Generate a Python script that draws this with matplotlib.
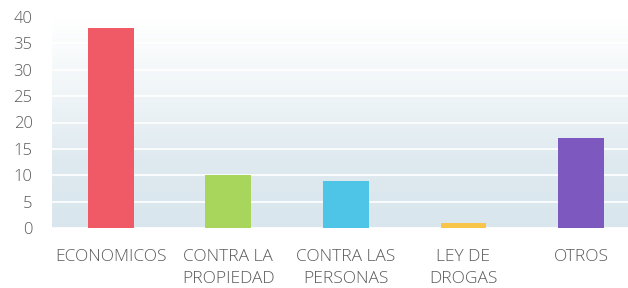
import numpy as np
import matplotlib.pyplot as plt
from matplotlib.colors import LinearSegmentedColormap

categories = ["ECONOMICOS", "CONTRA LA\nPROPIEDAD", "CONTRA LAS\nPERSONAS", "LEY DE\nDROGAS", "OTROS"]
values = [38, 10, 9, 1, 17]
colors = ["#f05a66", "#a8d65c", "#4ec5e6", "#f7c548", "#7d58bf"]
yticks = [0, 5, 10, 15, 20, 25, 30, 35, 40]

plt.rcParams['font.family'] = ['Open Sans', 'DejaVu Sans']

fig = plt.figure(figsize=(6.28, 2.88), dpi=100)
ax = fig.add_axes([52 / 628, 60 / 288, 576 / 628, 211 / 288])

# light bluish background, fading to white toward the top
grad = np.linspace(0, 1, 100).reshape(-1, 1)
bg = LinearSegmentedColormap.from_list('bg', ['#ffffff', '#f1f6f8', '#dfeaf0', '#d9e6ed'])
ax.imshow(grad, extent=(-0.5, 4.4, 0, 40), origin='upper', aspect='auto', cmap=bg, zorder=0)

x = np.arange(len(categories))
ax.bar(x, values, width=0.39, color=colors, zorder=3)

ax.set_xlim(-0.5, 4.4)
ax.set_ylim(0, 40)
ax.set_yticks(yticks)
ax.set_xticks(x)
ax.set_xticklabels(categories)
ax.tick_params(axis='x', length=0, labelsize=12.5, labelcolor='#5a5a5a', pad=15)
ax.tick_params(axis='y', length=0, labelsize=12, labelcolor='#5a5a5a', pad=14)
for lbl in ax.get_xticklabels():
    lbl.set_linespacing(1.5)
    lbl.set_fontweight('light')
for lbl in ax.get_yticklabels():
    lbl.set_fontweight('light')

ax.grid(axis='y', color='white', linewidth=1.2, zorder=1)
for s in ax.spines.values():
    s.set_visible(False)

fig.savefig('out.png', dpi=100, facecolor='white')
